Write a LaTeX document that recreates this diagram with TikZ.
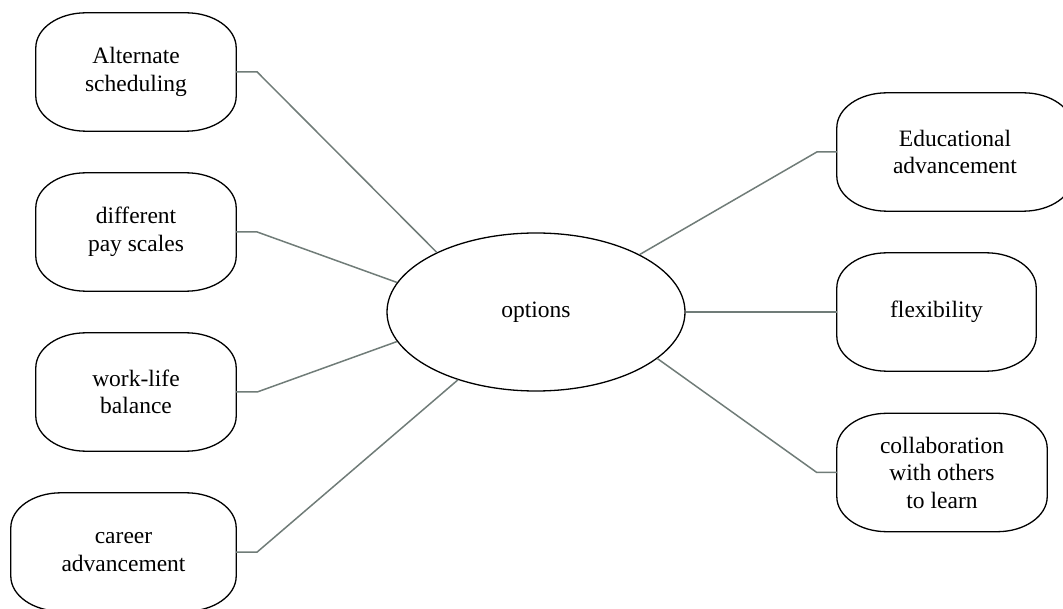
\documentclass[tikz,border=0pt]{standalone}
\usepackage{fontspec}
\setmainfont{Liberation Serif}
\usetikzlibrary{shapes.geometric}
\definecolor{conn}{RGB}{112,124,120}
\tikzset{
  lbl/.style={draw=none, align=center, inner sep=0pt, minimum height=118pt,
    font=\fontsize{23.5}{27.5}\selectfont},
  boxline/.style={draw=black, line width=1.3pt},
  connline/.style={draw=conn, line width=1.5pt},
  hub/.style={ellipse, draw=black, line width=1.3pt, minimum width=298pt,
    minimum height=158pt, inner sep=0pt, font=\fontsize{23.5}{27.5}\selectfont},
}
\newcommand\ovalbox[1]{%
  \draw[boxline] ([xshift=50pt]#1.north west) -- ([xshift=-50pt]#1.north east)
    arc[start angle=90,end angle=0,x radius=50pt,y radius=35pt]
    -- ([yshift=35pt]#1.south east)
    arc[start angle=0,end angle=-90,x radius=50pt,y radius=35pt]
    -- ([xshift=50pt]#1.south west)
    arc[start angle=-90,end angle=-180,x radius=50pt,y radius=35pt]
    -- ([yshift=-35pt]#1.north west)
    arc[start angle=180,end angle=90,x radius=50pt,y radius=35pt]
    -- cycle;}
\begin{document}
\begin{tikzpicture}[x=1pt,y=1pt]
\useasboundingbox (0,0) rectangle (1063,608);
\clip (0,0) rectangle (1063,608);
\node[hub] (opt) at (536,296) {options};
\node[lbl, minimum width=200pt] (b1) at (136,536) {Alternate\\scheduling};
\node[lbl, minimum width=200pt] (b2) at (136,376) {different\\pay scales};
\node[lbl, minimum width=200pt] (b3) at (136,216) {work-life\\balance};
\node[lbl, minimum width=225pt] (b4) at (123.5,56) {career\\advancement};
\node[lbl, minimum width=236pt] (b5) at (955,456) {Educational\\advancement};
\node[lbl, minimum width=199pt] (b6) at (936.5,296) {flexibility};
\node[lbl, minimum width=210pt] (b7) at (942,135.5) {collaboration\\with others\\to learn};
\ovalbox{b1}\ovalbox{b2}\ovalbox{b3}\ovalbox{b4}
\ovalbox{b5}\ovalbox{b6}\ovalbox{b7}
\draw[connline] (b1.east) -- ++(21pt,0) -- (opt.149.3);
\draw[connline] (b2.east) -- ++(21pt,0) -- (opt.168.2);
\draw[connline] (b3.east) -- ++(21pt,0) -- (opt.192);
\draw[connline] (b4.east) -- ++(21pt,0) -- (opt.221.5);
\draw[connline] (b5.west) -- ++(-20pt,0) -- (opt.29.6);
\draw[connline] (opt.east) -- (b6.west);
\draw[connline] (b7.west) -- ++(-20pt,0) -- (opt.-21.5);
\end{tikzpicture}
\end{document}
